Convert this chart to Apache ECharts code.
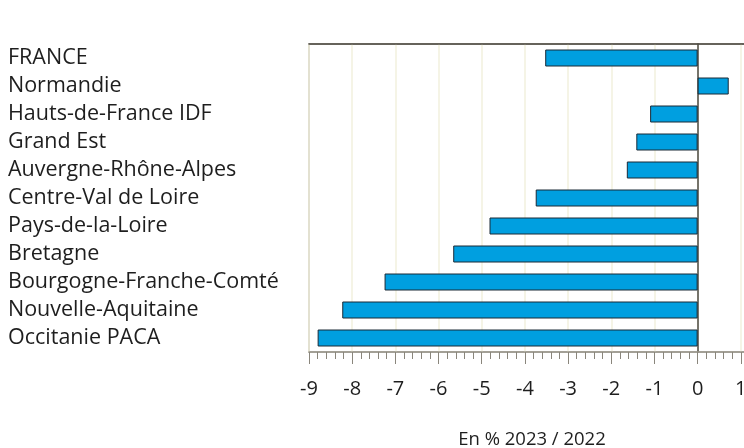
<!DOCTYPE html>
<html>
<head>
<meta charset="utf-8">
<script src="https://cdn.jsdelivr.net/npm/echarts@6/dist/echarts.min.js"></script>
<style>
  html, body { margin: 0; padding: 0; background: #fff; }
  #chart { width: 744px; height: 448px; }
</style>
</head>
<body>
<div id="chart"></div>
<script>
let regions = [
    "FRANCE",
    "Normandie",
    "Hauts-de-France IDF",
    "Grand Est",
    "Auvergne-Rhône-Alpes",
    "Centre-Val de Loire",
    "Pays-de-la-Loire",
    "Bretagne",
    "Bourgogne-Franche-Comté",
    "Nouvelle-Aquitaine",
    "Occitanie PACA"
]
let changes = [-3.53, 0.72, -1.10, -1.42, -1.64, -3.75, -4.82, -5.66, -7.25, -8.23, -8.80]
let axisName = "En % 2023 / 2022"

let chartDom = document.getElementById("chart");
let myChart = echarts.init(chartDom);

let option = {
    animation: false,
    textStyle: { fontFamily: "Open Sans" },
    title: {
        text: axisName,
        left: 527,
        top: 425,
        textAlign: "center",
        textStyle: {
            fontSize: 18.5,
            fontWeight: "normal",
            color: "#1e1e1e"
        }
    },
    grid: {
        left: 309,
        right: -40,
        top: 44,
        bottom: 96,
        outerBoundsMode: "none",
        containLabel: false,
        show: true,
        borderColor: "#9e9a90",
        borderWidth: 1.5
    },
    xAxis: [
        {
            type: "value",
            min: -9,
            max: 2,
            interval: 1,
            axisLine: { show: true, lineStyle: { color: "#9e9a90", width: 1.5 } },
            axisTick: { show: true, length: 12, lineStyle: { color: "#8a867c" } },
            minorTick: { show: true, splitNumber: 5, length: 7, lineStyle: { color: "#8a867c" } },
            splitLine: { show: true, lineStyle: { color: "#f2f0de", width: 1.5 } },
            axisLabel: {
                margin: 27,
                fontSize: 20,
                color: "#1e1e1e",
                formatter: v => Number.isInteger(v) ? String(v) : ""
            }
        },
        {
            type: "value",
            position: "top",
            min: -9,
            max: 2,
            interval: 1,
            axisLine: { show: true, lineStyle: { color: "#4d4a42", width: 1.5 } },
            axisTick: { show: false },
            axisLabel: { show: false },
            splitLine: { show: false }
        }
    ],
    yAxis: {
        type: "category",
        data: regions,
        inverse: true,
        axisLine: { show: true, onZero: true, lineStyle: { color: "#4d4a42", width: 1.5 } },
        axisTick: { show: false },
        axisLabel: {
            interval: 0,
            align: "left",
            margin: 301,
            fontSize: 21.5,
            color: "#1e1e1e"
        }
    },
    series: [
        {
            type: "bar",
            data: changes,
            barWidth: 17,
            itemStyle: {
                color: "#009fe0",
                borderColor: "#1b2a36",
                borderWidth: 1
            }
        }
    ]
};

option && myChart.setOption(option);
</script>
</body>
</html>
